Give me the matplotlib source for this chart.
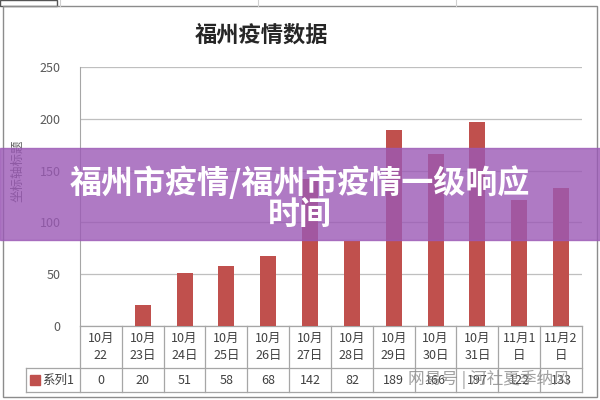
import matplotlib.pyplot as plt
import numpy as np
from matplotlib.patches import Rectangle
from matplotlib.transforms import blended_transform_factory

plt.rcParams['font.family'] = ['Noto Sans CJK SC', 'DejaVu Sans']

# Data
dates = ['10月\n22', '10月\n23日', '10月\n24日', '10月\n25日', '10月\n26日', '10月\n27日',
         '10月\n28日', '10月\n29日', '10月\n30日', '10月\n31日', '11月1\n日', '11月2\n日']
cases = [0, 20, 51, 58, 68, 142, 82, 189, 166, 197, 122, 133]
series_name = '系列1'
yticks = [0, 50, 100, 150, 200, 250]

title = '福州疫情数据'
y_label = '坐标轴标题'
banner_lines = ['福州市疫情/福州市疫情一级响应', '时间']
watermark = '网易号 | 河社夏季纳风'

grid_c = '#bfbfbf'
text_c = '#595959'
bar_c = '#c0504d'

fig = plt.figure(figsize=(6, 4), dpi=100)
fig.patch.set_facecolor('white')

# spreadsheet cells peeking above the chart
for xx in [0.1, 0.43, 0.76]:
    fig.add_artist(plt.Line2D([xx, xx], [0.985, 1.0], color='#d0d0d0', lw=0.8))
fig.add_artist(Rectangle((0.0, 0.985), 0.095, 0.015, fill=False, ec='#555555', lw=1.0))

# chart frame
fig.add_artist(Rectangle((0.005, 0.008), 0.99, 0.977, fill=False, ec='#8c8c8c', lw=1.0))

ax = fig.add_axes([0.1333, 0.185, 0.8367, 0.6475])
x = np.arange(len(dates))
ax.bar(x, cases, width=0.38, color=bar_c, zorder=3)
ax.set_xlim(-0.5, len(dates) - 0.5)
ax.set_ylim(0, 250)
ax.set_yticks(yticks)
ax.set_xticks([])
ax.yaxis.grid(True, color=grid_c, lw=0.9, zorder=0)
ax.tick_params(axis='y', length=0, labelsize=9, labelcolor=text_c, pad=14)
for s in ['top', 'right', 'bottom']:
    ax.spines[s].set_visible(False)
ax.spines['left'].set_color('#a6a6a6')
ax.set_ylabel(y_label, fontsize=9, color=text_c, labelpad=10)
ax.yaxis.set_label_coords(-0.11, 0.6)

# data table under the plot
tr = blended_transform_factory(ax.transData, ax.transAxes)
row1_top, row1_bot, row2_bot = 0.0, -0.162, -0.255
leg_left = -0.107
lc = '#a6a6a6'
kw = dict(transform=ax.transAxes, color=lc, lw=0.9, clip_on=False)
ax.plot([0, 1], [row1_top, row1_top], **kw)
ax.plot([leg_left, 1], [row1_bot, row1_bot], **kw)
ax.plot([leg_left, 1], [row2_bot, row2_bot], **kw)
ax.plot([leg_left, leg_left], [row1_bot, row2_bot], **kw)
for b in np.arange(-0.5, len(dates), 1.0):
    ax.plot([b, b], [row1_top, row2_bot], transform=tr, color=lc, lw=0.9, clip_on=False)
for i, (d, v) in enumerate(zip(dates, cases)):
    ax.text(i, (row1_top + row1_bot) / 2, d, transform=tr, ha='center', va='center',
            fontsize=9, color='#404040', linespacing=1.35)
    ax.text(i, (row1_bot + row2_bot) / 2, str(v), transform=tr, ha='center', va='center',
            fontsize=9, color='#404040')
ax.add_patch(Rectangle((leg_left + 0.008, (row1_bot + row2_bot) / 2 - 0.018), 0.02, 0.036,
                       transform=ax.transAxes, color=bar_c, clip_on=False))
ax.text(leg_left + 0.031, (row1_bot + row2_bot) / 2, series_name, transform=ax.transAxes,
        ha='left', va='center', fontsize=9, color='#404040')

fig.text(0.435, 0.912, title, ha='center', va='center', fontsize=16, fontweight='bold',
         color='#262626')

# purple banner
fig.add_artist(Rectangle((0, 0.40), 1, 0.23, transform=fig.transFigure,
                         color='#9b59b6', alpha=0.8, zorder=10))
fig.text(0.5, 0.543, banner_lines[0], ha='center', va='center', fontsize=23,
         fontweight='bold', color='white', zorder=11)
fig.text(0.5, 0.463, banner_lines[1], ha='center', va='center', fontsize=23,
         fontweight='bold', color='white', zorder=11)

# watermark
fig.text(0.815, 0.052, watermark, ha='center', va='center', fontsize=12,
         color='#8a8a8a', alpha=0.8, zorder=12)

fig.savefig('out.png', dpi=100)
